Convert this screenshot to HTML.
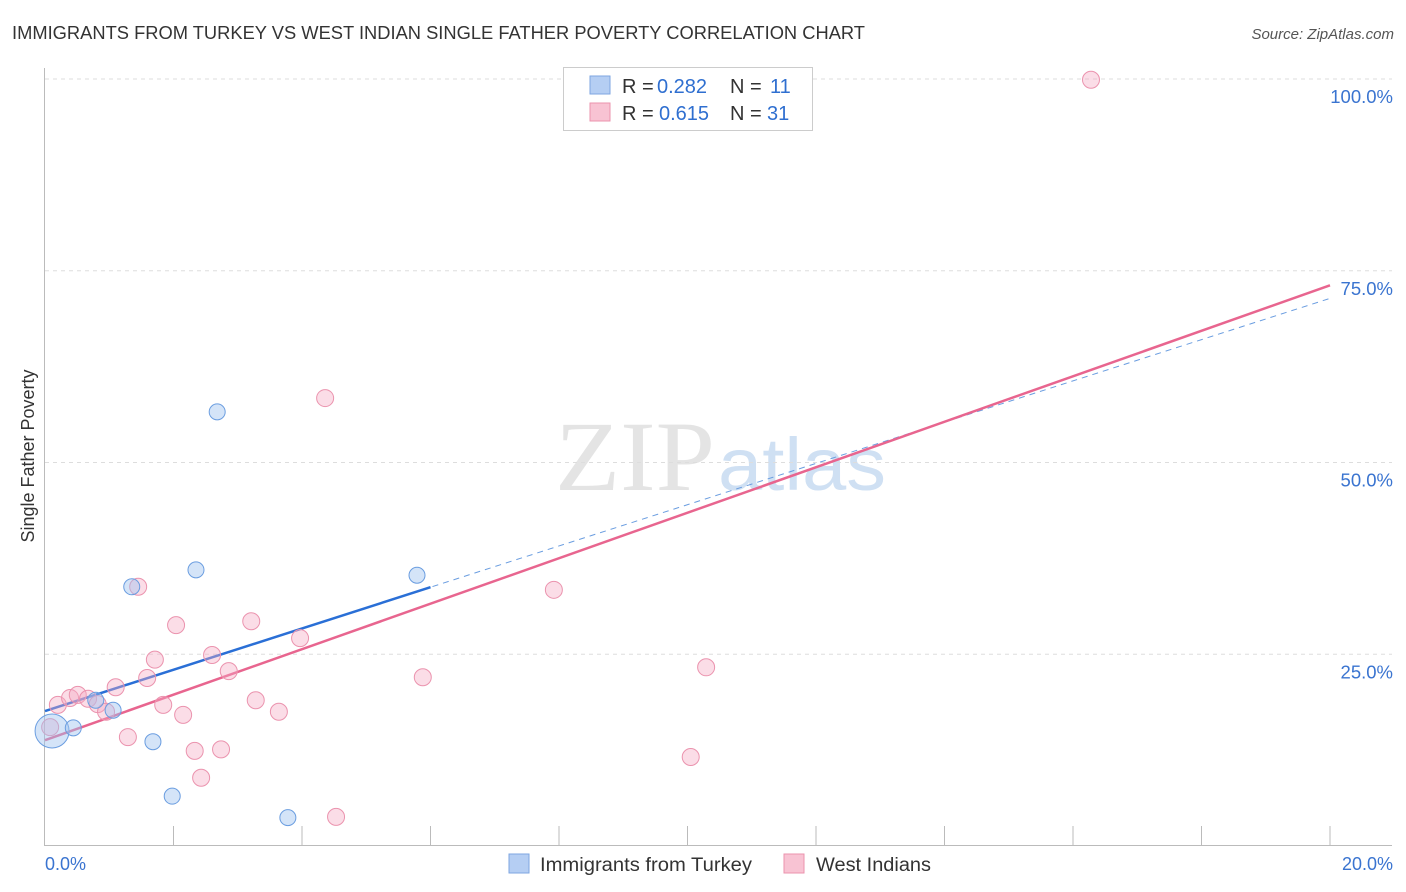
<!DOCTYPE html>
<html><head><meta charset="utf-8"><style>
body{margin:0;background:#fff;font-family:"Liberation Sans",sans-serif;}
svg{display:block}
</style></head><body>
<svg id="chart" width="1406" height="892">
<text x="12" y="39" font-size="18" fill="#333" textLength="853" lengthAdjust="spacingAndGlyphs">IMMIGRANTS FROM TURKEY VS WEST INDIAN SINGLE FATHER POVERTY CORRELATION CHART</text>
<text x="1394" y="39" font-size="15" fill="#555" font-style="italic" text-anchor="end">Source: ZipAtlas.com</text>
<text x="555" y="490" font-size="100" fill="#e4e4e4" font-family="Liberation Serif,serif" textLength="160" lengthAdjust="spacingAndGlyphs">ZIP</text>
<text x="718" y="490" font-size="74" fill="#cfe0f3" textLength="168" lengthAdjust="spacingAndGlyphs">atlas</text>
<text transform="translate(34,456) rotate(-90)" font-size="18" fill="#333" text-anchor="middle">Single Father Poverty</text>
<g id="grid"></g><g id="lines"></g><g id="pts"></g>
<g>
<rect x="563.5" y="67.5" width="249" height="63" fill="#fff" stroke="#ccc"/>
<rect x="590" y="76" width="20" height="18" fill="#b5cef3" stroke="#7ea6e0"/>
<rect x="590" y="103" width="20" height="18" fill="#f8c3d3" stroke="#eb93ae"/>
<text x="622" y="93" font-size="20" fill="#333">R = <tspan fill="#2f6fd0" x="657">0.282</tspan><tspan x="730">N = </tspan><tspan fill="#2f6fd0" x="770">11</tspan></text>
<text x="622" y="120" font-size="20" fill="#333">R = <tspan fill="#2f6fd0" x="659">0.615</tspan><tspan x="730">N = </tspan><tspan fill="#2f6fd0" x="767">31</tspan></text>
</g>
<g>
<rect x="509" y="854" width="20" height="19" fill="#b5cef3" stroke="#7ea6e0"/>
<text x="540" y="871" font-size="19" fill="#333" textLength="212" lengthAdjust="spacingAndGlyphs">Immigrants from Turkey</text>
<rect x="784" y="854" width="20" height="19" fill="#f8c3d3" stroke="#eb93ae"/>
<text x="816" y="871" font-size="19" fill="#333" textLength="115" lengthAdjust="spacingAndGlyphs">West Indians</text>
</g>
<text x="45" y="870" font-size="18" fill="#3a74d0">0.0%</text>
<text x="1393" y="870" font-size="18" fill="#3a74d0" text-anchor="end">20.0%</text>
</svg>
<script>
const blueX=[0.11,0.44,0.79,1.06,1.35,1.68,1.98,2.35,2.68,3.78,5.79];
const blueY=[15.0,15.4,19.0,17.7,33.8,13.6,6.5,36.0,56.6,3.7,35.3];
const blueR=[17,8,8,8,8,8,8,8,8,8,8];
const pinkX=[0.08,0.2,0.39,0.51,0.67,0.82,0.95,1.1,1.29,1.45,1.59,1.71,1.84,2.04,2.15,2.33,2.43,2.6,2.74,2.86,3.21,3.28,3.64,3.97,4.36,4.53,5.88,7.92,10.05,10.29,16.28];
const pinkY=[15.5,18.4,19.3,19.7,19.2,18.5,17.5,20.7,14.2,33.8,21.9,24.3,18.4,28.8,17.1,12.4,8.9,24.9,12.6,22.8,29.3,19.0,17.5,27.1,58.4,3.8,22.0,33.4,11.6,23.3,99.9];
const yTicks=[25,50,75,100];
const yTickLabels=["25.0%","50.0%","75.0%","100.0%"];
const blueTrend=[17.6,71.4];
const pinkTrend=[13.8,73.1];
const NS="http://www.w3.org/2000/svg";
const sx=v=>45+v*64.25, sy=v=>846-v*7.67;
function mk(tag,attrs,parent){const e=document.createElementNS(NS,tag);for(const k in attrs)e.setAttribute(k,attrs[k]);parent.appendChild(e);return e;}
const grid=document.getElementById('grid'),lines=document.getElementById('lines'),pts=document.getElementById('pts');
yTicks.forEach((t,i)=>{
 const l=mk('line',{x1:45,x2:1392,y1:sy(t),y2:sy(t),stroke:'#ddd','stroke-dasharray':'4,4'},grid);
 
 
 const tx=mk('text',{x:1393,y:sy(t)+24,'font-size':18.5,fill:'#3a74d0','text-anchor':'end'},grid);
 tx.textContent=yTickLabels[i];
 
 
});
const ax=mk('path',{d:'M44.5 68V845.5H1392',stroke:'#bbb',fill:'none'},grid);


for(let i=1;i<=10;i++){
 const tk=mk('line',{x1:sx(i*2),x2:sx(i*2),y1:826,y2:845,stroke:'#bbb'},grid);
 
 
}
let bl=mk('line',{x1:sx(0),y1:sy(blueTrend[0]),x2:sx(20),y2:sy(blueTrend[1]),stroke:'#6a9de0','stroke-width':1,'stroke-dasharray':'6,5'},lines);


const bAt=x=>blueTrend[0]+(blueTrend[1]-blueTrend[0])*x/20;
bl=mk('line',{x1:sx(0),y1:sy(bAt(0)),x2:sx(6),y2:sy(bAt(6)),stroke:'#2a6fd6','stroke-width':2.5},lines);


const pl=mk('line',{x1:sx(0),y1:sy(pinkTrend[0]),x2:sx(20),y2:sy(pinkTrend[1]),stroke:'#e8658f','stroke-width':2.5},lines);


pinkX.forEach((x,i)=>{
 const c=mk('circle',{cx:sx(x),cy:sy(pinkY[i]),r:8.5,fill:'rgba(245,170,195,0.4)',stroke:'#eb93ae','stroke-width':1},pts);
 
 
});
blueX.forEach((x,i)=>{
 const c=mk('circle',{cx:sx(x),cy:sy(blueY[i]),r:blueR[i],fill:'rgba(160,195,240,0.45)',stroke:'#6a9de0','stroke-width':1},pts);
 
 
});
</script>
</body></html>
